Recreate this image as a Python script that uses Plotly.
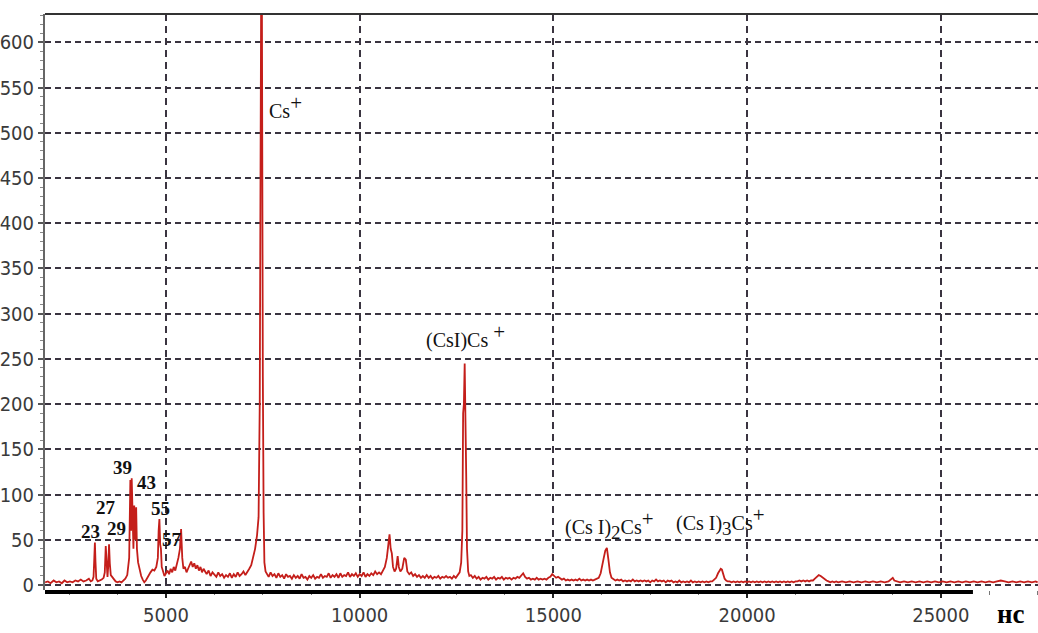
import plotly.graph_objects as go

# time of flight, ns
time_ns = [
    1880, 1950, 2020, 2100, 2170, 2240, 2310, 2380, 2450, 2520, 2590, 2660, 2730, 2800, 2870, 2940, 3010, 3060, 3100,
    3130, 3150, 3165, 3180, 3200, 3240, 3290, 3340, 3390,
    3420, 3445, 3465, 3490, 3510, 3530, 3550, 3575, 3610, 3650, 3700, 3750, 3800, 3850, 3900, 3950, 4000,
    4050, 4080, 4100, 4115, 4135, 4160, 4180, 4200, 4230, 4250, 4280, 4320, 4360, 4400, 4440, 4480, 4520,
    4560, 4600, 4650, 4700, 4750,
    4790, 4810, 4830, 4850, 4870, 4890, 4920, 4960, 5000, 5040, 5080, 5120, 5160, 5200, 5240, 5280, 5320,
    5360, 5390, 5420, 5450, 5490, 5530, 5570, 5610, 5650, 5690, 5730, 5770, 5810, 5850, 5890, 5930, 5970,
    6010, 6050, 6100, 6150, 6200, 6250, 6300, 6350, 6400, 6450, 6500, 6550, 6600, 6650, 6700, 6750, 6800,
    6850, 6900, 6950, 7000, 7050, 7100, 7150, 7200, 7250,
    7300, 7350, 7390, 7420, 7445, 7460, 7475, 7490, 7500, 7520, 7540, 7570,
    7600, 7650, 7700, 7750, 7800, 7850, 7900, 7950, 8000, 8050, 8100, 8150, 8200, 8250, 8300, 8350, 8400,
    8450, 8500, 8550, 8600, 8650, 8700, 8750, 8800, 8850, 8900, 8950, 9000, 9050, 9100, 9150, 9200, 9250,
    9300, 9350, 9400, 9450, 9500, 9550, 9600, 9650, 9700, 9750, 9800, 9850, 9900, 9950, 10000, 10050,
    10100, 10150, 10200, 10250, 10300, 10350, 10400, 10450, 10500, 10550, 10600, 10650, 10700, 10740,
    10770, 10800, 10830, 10860, 10900, 10940, 10980, 11010, 11050, 11100, 11150, 11190, 11230, 11280,
    11330, 11380, 11430, 11480, 11530, 11580, 11630, 11680, 11730, 11780, 11830, 11880, 11930, 11980,
    12030, 12080, 12130, 12180, 12230, 12280, 12330, 12380, 12430, 12480, 12530, 12580, 12620, 12650,
    12670, 12690, 12710, 12730, 12750, 12770, 12800, 12830,
    12870, 12920, 12970, 13020, 13070, 13120, 13170, 13220, 13270, 13320, 13370, 13420, 13470, 13520,
    13570, 13620, 13670, 13720, 13770, 13820, 13870, 13920, 13970, 14020, 14070, 14120, 14170, 14220,
    14270, 14320, 14370, 14420, 14470, 14520, 14570, 14620, 14670, 14720, 14770, 14820, 14870, 14920,
    14970, 15020, 15070, 15120, 15170, 15220, 15270, 15320, 15370, 15420, 15470, 15520, 15570, 15620,
    15670, 15720, 15770, 15820, 15870, 15920, 15970, 16020, 16070, 16120, 16170, 16220, 16260, 16300,
    16340, 16380, 16420, 16460, 16500, 16550, 16600,
    16650, 16700, 16750, 16800, 16850, 16900, 16950, 17000, 17050, 17100, 17150, 17200, 17250, 17300,
    17350, 17400, 17450, 17500, 17550, 17600, 17650, 17700, 17750, 17800, 17850, 17900, 17950, 18000,
    18050, 18100, 18150, 18200, 18250, 18300, 18350, 18400, 18450, 18500, 18550, 18600, 18650, 18700,
    18750, 18800, 18850, 18900, 18950, 19000, 19050, 19100, 19150, 19200, 19250, 19290, 19320, 19350,
    19380, 19420, 19460, 19500,
    19550, 19600, 19650, 19700, 19750, 19800, 19850, 19900, 19950, 20000, 20050, 20100, 20150, 20200,
    20250, 20300, 20350, 20400, 20450, 20500, 20550, 20600, 20650, 20700, 20750, 20800, 20850, 20900,
    20950, 21000, 21050, 21100, 21150, 21200, 21250, 21300, 21350, 21400, 21450, 21500, 21550, 21600,
    21650, 21700, 21750, 21800, 21850, 21900, 21950, 22000, 22050, 22100, 22150, 22200, 22250, 22300,
    22350, 22450, 22550, 22650, 22750, 22850, 22950, 23050, 23150, 23250, 23350, 23450, 23550, 23650,
    23720, 23760, 23800, 23870, 23950, 24050, 24150, 24250, 24350, 24450, 24550, 24650, 24750, 24850,
    24950, 25050, 25150, 25250, 25350, 25450, 25550, 25650, 25750, 25850, 25950, 26050, 26150, 26250,
    26350, 26450, 26550, 26650, 26750, 26850, 26950, 27050, 27150, 27250, 27350, 27450, 27500,
]

# detector signal, counts
signal = [
    3, 4, 2, 5, 3, 4, 2, 5, 3, 4, 3, 5, 4, 6, 4, 5, 7, 4, 5,
    9, 30, 47, 26, 7, 4, 5, 6, 8,
    14, 43, 19, 9, 21, 45, 24, 11, 9, 7, 4, 3, 4, 3, 5, 7, 11,
    30, 116, 60, 118, 70, 40, 88, 50, 86, 40, 25, 17, 10, 6, 3, 5, 8,
    12, 14, 17, 16, 20,
    30, 60, 73, 45, 40, 20, 15, 10, 13, 16, 12, 18, 14, 20, 16, 22, 30,
    40, 62, 30, 18, 20, 14, 18, 22, 26, 20, 24, 18, 22, 16, 20, 14, 18,
    15, 12, 16, 10, 14, 12, 9, 14, 10, 12, 8, 11, 9, 13, 8, 12, 9,
    14, 10, 12, 15, 11, 14, 18, 22, 30,
    40, 55, 75, 200, 577, 700, 660, 255, 230, 80, 25, 15,
    12, 9, 14, 10, 12, 8, 13, 9, 11, 7, 12, 9, 10, 7, 11, 8, 10,
    7, 12, 8, 9, 6, 10, 8, 11, 7, 9, 8, 12, 8, 10, 9, 13, 8,
    11, 9, 12, 8, 13, 9, 11, 10, 14, 9, 12, 10, 13, 9, 12, 10,
    14, 9, 12, 10, 13, 11, 15, 12, 14, 12, 16, 20, 30, 45,
    56, 40, 35, 20, 15, 18, 32, 20, 15, 18, 30, 28, 15, 12,
    14, 10, 12, 9, 11, 8, 10, 8, 11, 8, 10, 7, 9, 8,
    10, 7, 9, 8, 10, 8, 9, 7, 10, 8, 11, 14, 25, 60,
    190, 200, 245, 200, 120, 40, 15, 10,
    11, 8, 10, 7, 9, 6, 8, 7, 9, 6, 8, 7, 9, 6,
    8, 7, 9, 6, 8, 7, 8, 6, 8, 7, 9, 8, 11, 13,
    9, 7, 8, 6, 7, 6, 8, 6, 7, 6, 7, 6, 8, 9,
    12, 10, 8, 9, 7, 6, 7, 5, 6, 5, 6, 5, 6, 5,
    7, 5, 6, 5, 6, 5, 6, 5, 6, 7, 8, 13, 20, 30,
    38, 41, 28, 14, 8, 6, 5,
    6, 5, 6, 4, 5, 4, 5, 4, 6, 4, 5, 4, 5, 4,
    5, 4, 5, 3, 5, 4, 6, 4, 5, 4, 5, 3, 5, 4,
    5, 3, 4, 3, 5, 3, 4, 3, 4, 3, 5, 3, 4, 3,
    4, 3, 4, 3, 4, 3, 4, 4, 6, 8, 13, 16, 18, 17,
    12, 7, 5, 4,
    4, 3, 4, 3, 4, 3, 4, 3, 4, 3, 4, 3, 4, 3,
    4, 3, 4, 3, 4, 3, 4, 3, 4, 3, 4, 3, 4, 3,
    4, 3, 4, 3, 4, 3, 4, 4, 5, 4, 5, 4, 5, 4,
    5, 5, 7, 9, 11, 10, 8, 6, 5, 4, 3, 4, 3, 4,
    3, 4, 3, 4, 3, 4, 3, 4, 3, 4, 3, 4, 3, 4,
    6, 8, 5, 4, 3, 4, 3, 4, 3, 4, 3, 4, 3, 4,
    3, 4, 3, 4, 3, 4, 3, 4, 3, 4, 3, 4, 3, 4,
    3, 4, 5, 4, 3, 4, 3, 4, 3, 4, 3, 4, 3,
]

# small peak labels (mass numbers)
mass_labels = ["23", "27", "29", "39", "43", "55", "57"]
mass_label_t = [3056, 3451, 3728, 3882, 4502, 4871, 5147]
mass_label_v = [59, 86, 63, 130, 113, 85, 50]

# cluster ion labels
SUP = "<sup><span style='font-size:21px'>+</span></sup>"
ion_labels = ["Cs" + SUP,
              "(CsI)Cs " + SUP,
              "(Cs I)<sub><span style='font-size:19px'>2</span></sub>Cs" + SUP,
              "(Cs I)<sub><span style='font-size:19px'>3</span></sub>Cs" + SUP]
ion_label_t = [8090, 12743, 16440, 19325]
ion_label_v = [529, 275, 66, 71]

x_ticks = [5000, 10000, 15000, 20000, 25000]
y_ticks = list(range(0, 601, 50))

LINE = "#c41e1a"
GRID = "#3a3440"
TICKFONT = dict(family="Liberation Sans Narrow, DejaVu Sans Condensed, Arial Narrow, sans-serif",
                size=20, color="#3a3a3a")
SERIF = "Liberation Serif, Times New Roman, serif"

fig = go.Figure()
fig.add_trace(go.Scatter(x=time_ns, y=signal, mode="lines",
                         line=dict(color=LINE, width=1.8), hoverinfo="skip",
                         showlegend=False))

annotations = []
for txt, t, v in zip(mass_labels, mass_label_t, mass_label_v):
    annotations.append(dict(x=t, y=v, xref="x", yref="y", text="<b>" + txt + "</b>",
                            showarrow=False,
                            font=dict(family=SERIF, size=19, color="#111")))
for txt, t, v in zip(ion_labels, ion_label_t, ion_label_v):
    annotations.append(dict(x=t, y=v, xref="x", yref="y", text=txt, showarrow=False,
                            font=dict(family=SERIF, size=20, color="#111")))

plot_w = 1038 - 45
plot_h = 633 - 14 - 43
annotations.append(dict(x=(1011 - 45) / plot_w, y=-(614 - 590) / plot_h,
                        xref="paper", yref="paper", text="<b>нс</b>", showarrow=False,
                        xanchor="center", yanchor="middle",
                        font=dict(family=SERIF, size=27, color="#000")))

shapes = [
    # thick bottom axis bar (stops before the unit label)
    dict(type="line", xref="x", yref="paper", x0=1877, x1=25830, y0=-0.0035, y1=-0.0035,
         line=dict(color="#000", width=4)),
    # top frame
    dict(type="line", xref="paper", yref="paper", x0=0, x1=1, y0=1, y1=1,
         line=dict(color="#333", width=2)),
]

fig.update_layout(
    width=1038, height=633,
    margin=dict(l=45, r=0, t=14, b=43),
    paper_bgcolor="white", plot_bgcolor="white",
    annotations=annotations, shapes=shapes,
    hovermode=False,
    xaxis=dict(range=[1877, 27509], tickvals=x_ticks, ticktext=[str(v) for v in x_ticks],
               showgrid=True, gridcolor=GRID, gridwidth=1.5, griddash="7px,5px",
               zeroline=False, showline=False,
               ticks="outside", ticklen=7, tickwidth=2, tickcolor="#222",
               tickfont=TICKFONT,
               minor=dict(dtick=1250, tick0=0, ticks="outside", ticklen=4, tickwidth=1,
                          tickcolor="#777", showgrid=False)),
    yaxis=dict(range=[-5.5, 631.3], tickvals=y_ticks, ticktext=[str(v) for v in y_ticks],
               showgrid=True, gridcolor=GRID, gridwidth=1.5, griddash="6px,4px",
               zeroline=False, showline=True, linecolor="#666", linewidth=2,
               ticks="outside", ticklen=5, tickwidth=1.5, tickcolor="#555",
               tickfont=TICKFONT,
               minor=dict(dtick=10, tick0=0, ticks="outside", ticklen=3, tickwidth=1,
                          tickcolor="#888", showgrid=False)),
)

fig.write_html("out.html", config={"displayModeBar": False})
